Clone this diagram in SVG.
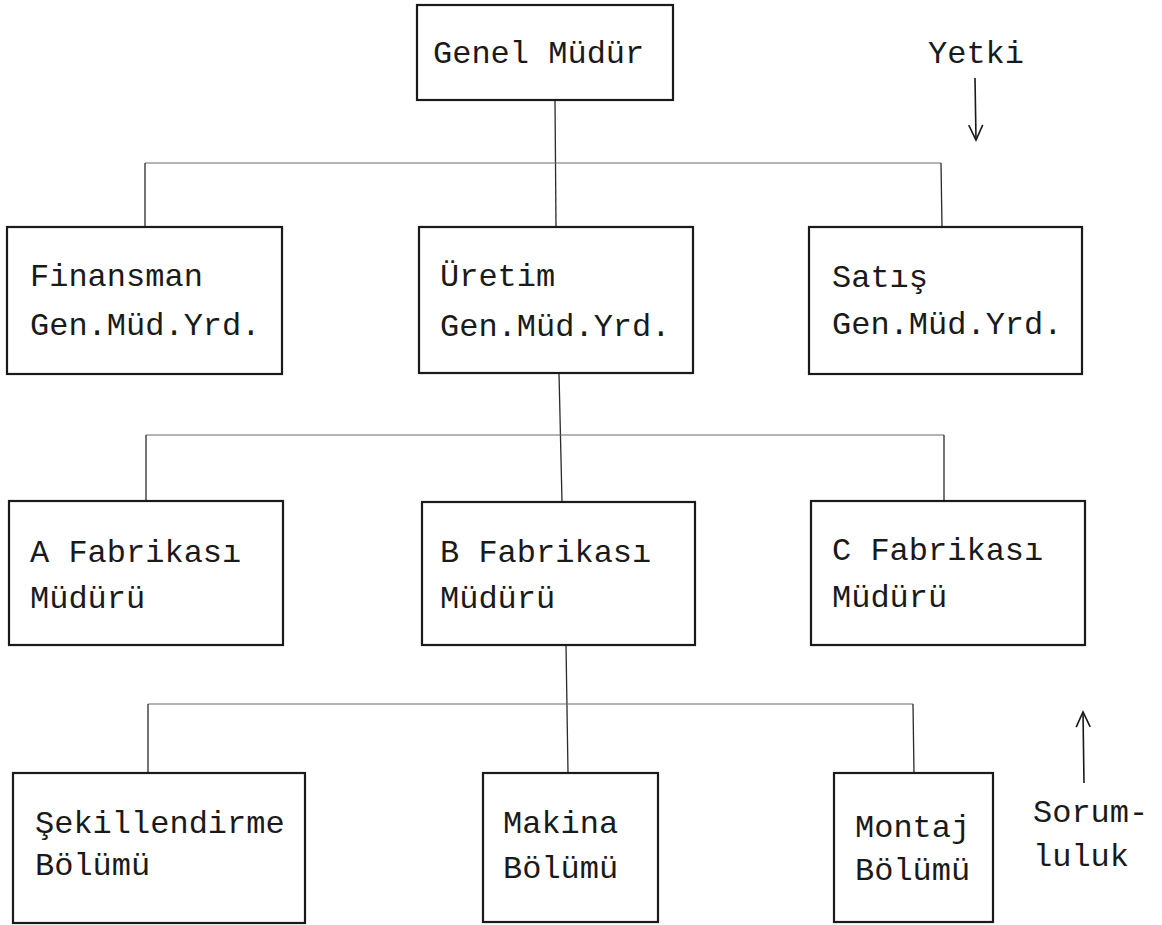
<svg xmlns="http://www.w3.org/2000/svg" width="1162" height="925" viewBox="0 0 1162 925">
  <style>
    .box { fill: #ffffff; stroke: #1a1a1a; stroke-width: 2.2; }
    .lbl { font-family: "Liberation Mono", "DejaVu Sans Mono", monospace; font-size: 32px; fill: #1a1a1a; }
    .v { stroke: #2a2a2a; stroke-width: 1.3; fill: none; }
    .h { stroke: #6a6a6a; stroke-width: 1.1; fill: none; }
    .arr { stroke: #1a1a1a; stroke-width: 1.6; fill: none; }
  </style>
  <defs>
    <marker id="openHead" viewBox="-17 -9 19 18" refX="0" refY="0" markerWidth="19" markerHeight="18" markerUnits="userSpaceOnUse" orient="auto">
      <path d="M-15,-7 L0,0 L-15,7" fill="none" stroke="#1a1a1a" stroke-width="1.6"/>
    </marker>
  </defs>
  <rect width="1162" height="925" fill="#ffffff"/>

  <!-- connectors -->
  <g id="connectors">
    <!-- level 1 -->
    <line class="v" x1="555" y1="100" x2="556" y2="227"/>
    <line class="h" x1="145" y1="163" x2="941" y2="163"/>
    <line class="v" x1="145" y1="163" x2="145" y2="227"/>
    <line class="v" x1="941" y1="163" x2="942" y2="227"/>
    <!-- level 2 -->
    <line class="v" x1="559" y1="373" x2="562" y2="502"/>
    <line class="h" x1="146" y1="435" x2="944" y2="435"/>
    <line class="v" x1="146" y1="435" x2="146" y2="501"/>
    <line class="v" x1="944" y1="435" x2="944" y2="501"/>
    <!-- level 3 -->
    <line class="v" x1="566" y1="645" x2="568" y2="773"/>
    <line class="h" x1="148" y1="704" x2="913" y2="704"/>
    <line class="v" x1="148" y1="704" x2="148" y2="773"/>
    <line class="v" x1="913" y1="704" x2="914" y2="773"/>
  </g>

  <g id="genel-mudur">
    <rect class="box" x="417" y="5" width="256" height="95"/>
    <text class="lbl" x="433" y="63">Genel Müdür</text>
  </g>

  <g id="finansman">
    <rect class="box" x="7" y="227" width="275" height="147"/>
    <text class="lbl" x="30" y="286">Finansman</text>
    <text class="lbl" x="30" y="335">Gen.Müd.Yrd.</text>
  </g>

  <g id="uretim">
    <rect class="box" x="419" y="227" width="274" height="146"/>
    <text class="lbl" x="440" y="286">Üretim</text>
    <text class="lbl" x="440" y="336">Gen.Müd.Yrd.</text>
  </g>

  <g id="satis">
    <rect class="box" x="809" y="227" width="273" height="147"/>
    <text class="lbl" x="832" y="287">Satış</text>
    <text class="lbl" x="832" y="334">Gen.Müd.Yrd.</text>
  </g>

  <g id="a-fabrikasi">
    <rect class="box" x="9" y="501" width="274" height="144"/>
    <text class="lbl" x="30" y="562">A Fabrikası</text>
    <text class="lbl" x="30" y="608">Müdürü</text>
  </g>

  <g id="b-fabrikasi">
    <rect class="box" x="422" y="502" width="273" height="143"/>
    <text class="lbl" x="440" y="562">B Fabrikası</text>
    <text class="lbl" x="440" y="608">Müdürü</text>
  </g>

  <g id="c-fabrikasi">
    <rect class="box" x="811" y="501" width="274" height="144"/>
    <text class="lbl" x="832" y="560">C Fabrikası</text>
    <text class="lbl" x="832" y="607">Müdürü</text>
  </g>

  <g id="sekillendirme">
    <rect class="box" x="13" y="773" width="292" height="150"/>
    <text class="lbl" x="35" y="833">Şekillendirme</text>
    <text class="lbl" x="35" y="875">Bölümü</text>
  </g>

  <g id="makina">
    <rect class="box" x="483" y="773" width="175" height="149"/>
    <text class="lbl" x="503" y="833">Makina</text>
    <text class="lbl" x="503" y="878">Bölümü</text>
  </g>

  <g id="montaj">
    <rect class="box" x="834" y="773" width="159" height="149"/>
    <text class="lbl" x="855" y="837">Montaj</text>
    <text class="lbl" x="855" y="880">Bölümü</text>
  </g>

  <!-- direction of authority and responsibility -->
  <g id="yetki">
    <text class="lbl" x="928" y="63">Yetki</text>
    <line class="arr" x1="975" y1="78" x2="976" y2="140" marker-end="url(#openHead)"/>
  </g>

  <g id="sorumluluk">
    <line class="arr" x1="1084" y1="783" x2="1083" y2="712" marker-end="url(#openHead)"/>
    <text class="lbl" x="1033" y="822">Sorum-</text>
    <text class="lbl" x="1033" y="866">luluk</text>
  </g>
</svg>
